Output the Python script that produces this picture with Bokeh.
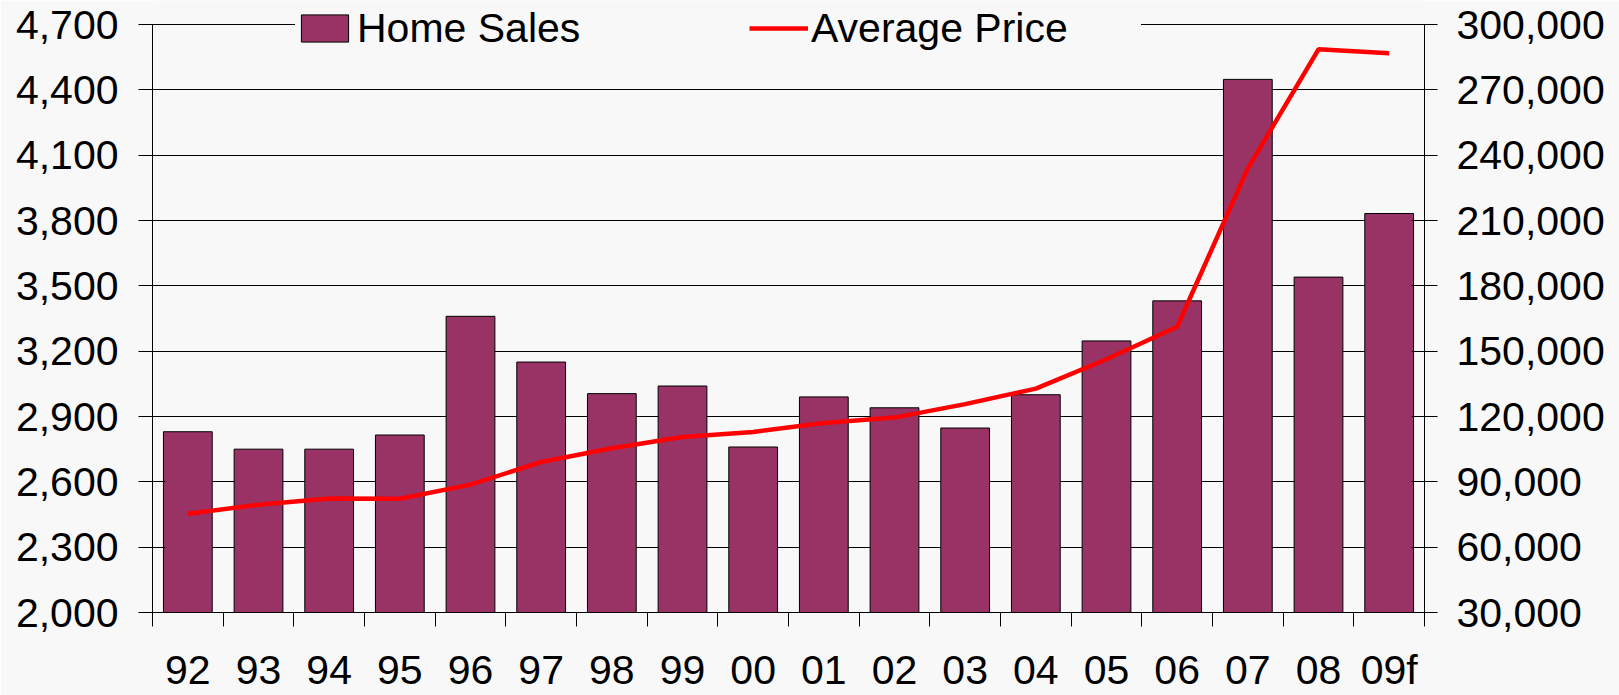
from bokeh.plotting import figure
from bokeh.models import (Range1d, LinearAxis, FixedTicker, NumeralTickFormatter,
                          Legend, LegendItem, Grid)
from bokeh.embed import file_html
from bokeh.resources import INLINE

# ---- data ----
years = ["92", "93", "94", "95", "96", "97", "98", "99", "00", "01",
         "02", "03", "04", "05", "06", "07", "08", "09f"]
home_sales = [2830, 2750, 2750, 2815, 3360, 3150, 3005, 3040, 2760, 2990,
              2940, 2847, 3000, 3247, 3431, 4448, 3540, 3832]
avg_price = [75300, 79500, 82400, 82200, 88700, 99100, 105400, 110600, 112900, 117000,
             119500, 125700, 132800, 146300, 161200, 233900, 288600, 286800]
sales_ticks = [2000, 2300, 2600, 2900, 3200, 3500, 3800, 4100, 4400, 4700]
price_ticks = [30000, 60000, 90000, 120000, 150000, 180000, 210000, 240000, 270000, 300000]

FONT = "Liberation Sans"
FS = "41px"
BG = "#F8F8F8"

n = len(years)
centers = [i + 0.5 for i in range(n)]
edges = [i for i in range(n + 1)]

# frame spans the full top of the canvas so the legend can sit above the top tick
H, BOTTOM = 695, 83
TOP_PAD = 24                       # pixels between frame top and the top tick
axis_px = H - BOTTOM - TOP_PAD     # pixels covered by the tick span
s_lo, s_hi = sales_ticks[0], sales_ticks[-1]
p_lo, p_hi = price_ticks[0], price_ticks[-1]
s_end = s_hi + (s_hi - s_lo) * TOP_PAD / axis_px
p_end = p_hi + (p_hi - p_lo) * TOP_PAD / axis_px

p = figure(width=1619, height=H, output_backend="svg", toolbar_location=None,
           x_range=Range1d(0, n), y_range=Range1d(s_lo, s_end),
           x_axis_type=None, y_axis_type=None,
           background_fill_color=BG, border_fill_color=BG, outline_line_color=None,
           min_border_left=152, min_border_right=195, min_border_top=0, min_border_bottom=BOTTOM)
p.extra_y_ranges = {"price": Range1d(p_lo, p_end)}

# grid
p.add_layout(Grid(dimension=1, ticker=FixedTicker(ticks=sales_ticks),
                  grid_line_color="black", grid_line_width=1))

# left axis
left = LinearAxis(ticker=FixedTicker(ticks=sales_ticks), formatter=NumeralTickFormatter(format="0,0"),
                  bounds=(s_lo, s_hi),
                  major_tick_out=14, major_tick_in=13, minor_tick_out=0, minor_tick_in=0,
                  major_label_standoff=20, axis_line_color="black", major_tick_line_color="black",
                  major_label_text_font=FONT, major_label_text_font_size=FS,
                  major_label_text_color="black")
p.add_layout(left, "left")

# right axis
right = LinearAxis(y_range_name="price", ticker=FixedTicker(ticks=price_ticks),
                   formatter=NumeralTickFormatter(format="0,0"), bounds=(p_lo, p_hi),
                   major_tick_out=13, major_tick_in=13, minor_tick_out=0, minor_tick_in=0,
                   major_label_standoff=19, axis_line_color="black", major_tick_line_color="black",
                   major_label_text_font=FONT, major_label_text_font_size=FS,
                   major_label_text_color="black")
p.add_layout(right, "right")

# bottom axis: labels at category centres, ticks at category boundaries
bottom = LinearAxis(ticker=FixedTicker(ticks=centers, minor_ticks=edges),
                    major_label_overrides={c: y for c, y in zip(centers, years)},
                    major_tick_out=0, major_tick_in=0, minor_tick_out=14, minor_tick_in=0,
                    minor_tick_line_color="black", axis_line_color="black",
                    major_label_standoff=20,
                    major_label_text_font=FONT, major_label_text_font_size=FS,
                    major_label_text_color="black")
p.add_layout(bottom, "below")

bars = p.vbar(x=centers, top=home_sales, bottom=s_lo, width=0.69,
              fill_color="#993366", line_color="black", line_width=1)
line = p.line(x=centers, y=avg_price, y_range_name="price", line_color="#FF0000", line_width=4.5)

legend = Legend(items=[LegendItem(label="Home Sales", renderers=[bars]),
                       LegendItem(label="Average Price", renderers=[line])],
                orientation="horizontal", location=(143, 560),
                background_fill_color=BG, background_fill_alpha=1.0,
                border_line_color=None, padding=0, margin=0,
                glyph_width=59, glyph_height=34, label_standoff=3, spacing=62,
                label_width=330, label_height=48,
                label_text_font=FONT, label_text_font_size=FS, label_text_color="black")
p.add_layout(legend)

open("out.html", "w").write(file_html(p, INLINE))
